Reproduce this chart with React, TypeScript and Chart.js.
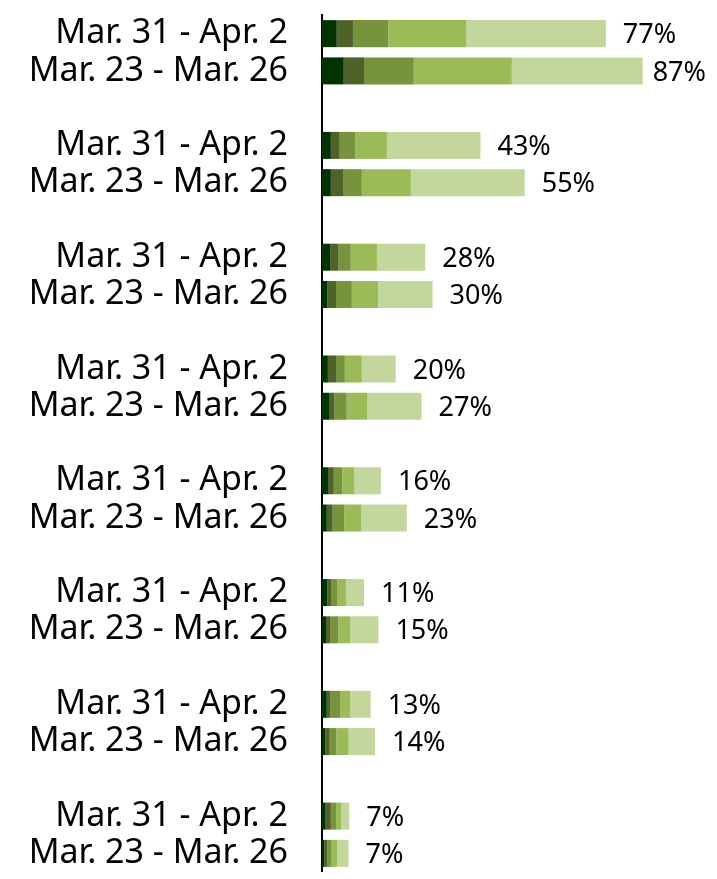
import React, { useEffect, useRef } from "react";
import { Chart, registerables } from "chart.js";

Chart.register(...registerables);

const periodLabels = ["Mar. 31 - Apr. 2", "Mar. 23 - Mar. 26"];
const groupCount = 8;

// per bar, top to bottom (16 bars)
const seg1 = [4.0, 5.9, 2.4, 2.4, 2.2, 1.5, 1.6, 1.9, 1.8, 1.3, 1.4, 1.1, 1.3, 0.9, 1.0, 0.7];
const seg2 = [4.4, 5.5, 2.4, 3.3, 2.3, 2.3, 2.2, 1.5, 1.4, 1.6, 1.2, 1.1, 0.9, 1.2, 1.4, 0.7];
const seg3 = [9.6, 13.5, 4.2, 5.1, 3.3, 4.3, 2.4, 3.3, 2.3, 3.1, 1.6, 2.2, 2.7, 1.8, 1.4, 1.2];
const seg4 = [21.2, 26.6, 8.6, 13.3, 7.1, 7.1, 4.6, 5.6, 3.3, 4.7, 2.3, 3.2, 2.8, 3.3, 1.4, 1.5];
const seg5 = [37.8, 35.5, 25.4, 30.9, 13.1, 14.8, 9.2, 14.7, 7.2, 12.3, 4.9, 7.7, 5.5, 7.2, 2.2, 3.1];
const totals = [77, 87, 43, 55, 28, 30, 20, 27, 16, 23, 11, 15, 13, 14, 7, 7];

const segColors = ["#003300", "#4F6228", "#77933C", "#9BBB59", "#C3D69B"];

function withGaps<T>(arr: T[], gap: T): T[] {
  const out: T[] = [];
  for (let g = 0; g < groupCount; g++) {
    out.push(arr[g * 2], arr[g * 2 + 1]);
    if (g < groupCount - 1) out.push(gap);
  }
  return out;
}

const categoryLabels = withGaps(
  Array.from({ length: groupCount * 2 }, (_, i) => periodLabels[i % 2]),
  ""
);
const totalLabels = withGaps(totals.map((t) => `${t}%`), "");

const valuePlugin = {
  id: "totals",
  afterDatasetsDraw(chart: any) {
    const ctx = chart.ctx;
    const meta = chart.getDatasetMeta(chart.data.datasets.length - 1);
    ctx.save();
    ctx.fillStyle = "#000";
    ctx.font = "27px 'Noto Sans'";
    ctx.textAlign = "left";
    ctx.textBaseline = "middle";
    meta.data.forEach((el: any, i: number) => {
      const txt = totalLabels[i];
      if (!txt) return;
      const w = ctx.measureText(txt).width;
      const x = Math.min(el.x + 17, chart.width - w - 3);
      ctx.fillText(txt, x, el.y + 2);
    });
    ctx.restore();
  },
};

export default function App() {
  const ref = useRef<HTMLCanvasElement>(null);
  useEffect(() => {
    if (!ref.current) return;
    const segs = [seg1, seg2, seg3, seg4, seg5];
    const chart = new Chart(ref.current, {
      type: "bar",
      data: {
        labels: categoryLabels,
        datasets: segs.map((s, k) => ({
          label: `s${k + 1}`,
          data: withGaps<number | null>(s, null),
          backgroundColor: segColors[k],
          borderWidth: 0,
          categoryPercentage: 1,
          barPercentage: 0.725,
        })),
      },
      options: {
        indexAxis: "y",
        animation: false,
        responsive: true,
        maintainAspectRatio: false,
        layout: { padding: { top: 7, right: 0, bottom: 0, left: 0 } },
        plugins: { legend: { display: false }, tooltip: { enabled: false } },
        scales: {
          x: { stacked: true, display: false, min: 0, max: 105 },
          y: {
            stacked: true,
            grid: { display: false, drawTicks: false },
            border: { display: true, color: "#000", width: 2 },
            ticks: {
              autoSkip: false,
              color: "#000",
              padding: 34,
              font: { family: "'Noto Sans'", size: 34 },
            },
            afterFit(scale: any) {
              scale.width = 314;
              scale.paddingTop = 0;
              scale.paddingBottom = 0;
            },
          },
        },
      },
      plugins: [valuePlugin],
    });
    return () => chart.destroy();
  }, []);
  return (
    <div style={{ width: 701, height: 864, position: "relative" }}>
      <canvas ref={ref} />
    </div>
  );
}
